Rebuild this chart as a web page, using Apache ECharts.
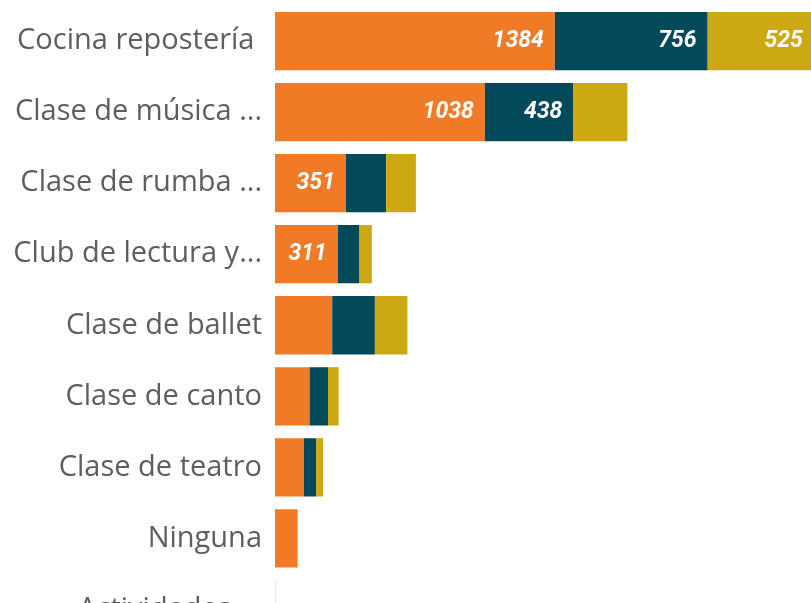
<!DOCTYPE html>
<html>
<head>
<meta charset="utf-8">
<script src="https://cdn.jsdelivr.net/npm/echarts@6/dist/echarts.min.js"></script>
<style>html,body{margin:0;padding:0;background:#fff;overflow:hidden;width:811px;height:603px;}#c{width:831px;height:645px;}</style>
</head>
<body>
<div id="c"></div>
<script>
const categories = ["Cocina repostería ","Clase de música ...","Clase de rumba ...","Club de lectura y...","Clase de ballet","Clase de canto","Clase de teatro","Ninguna","Actividades ..."];
const serieA = [1384,1038,351,311,283,171,142,112,1];
const serieB = [756,438,199,107,211,91,61,0,0];
const serieC = [525,267,147,61,161,53,35,0,0];
const labelThreshold = 300;

const colors = ["#F17A27","#02495A","#CCA913"];
const chart = echarts.init(document.getElementById('c'));
function mk(name, data, color){
  return {
    name, type:'bar', stack:'total', data, barCategoryGap:'18%',
    itemStyle:{color},
    label:{
      show:true, position:'insideRight', distance:11,
      color:'#fff', fontStyle:'italic', fontWeight:'bold', fontSize:23,
      fontFamily:'Roboto',
      formatter: p => p.value >= labelThreshold ? String(p.value) : ''
    }
  };
}
chart.setOption({
  animation:false,
  grid:{left:275, top:5.5, right:0, bottom:0, containLabel:false, outerBoundsMode:'none'},
  xAxis:{type:'value', min:0, max:2750, show:false},
  yAxis:{
    type:'category', data:categories, inverse:true,
    axisLine:{show:false}, axisTick:{show:false},
    axisLabel:{fontSize:29, color:'#605E5C', margin:13, fontFamily:'Open Sans'}
  },
  series:[mk('A',serieA,colors[0]), mk('B',serieB,colors[1]), mk('C',serieC,colors[2])]
});
</script>
</body>
</html>
